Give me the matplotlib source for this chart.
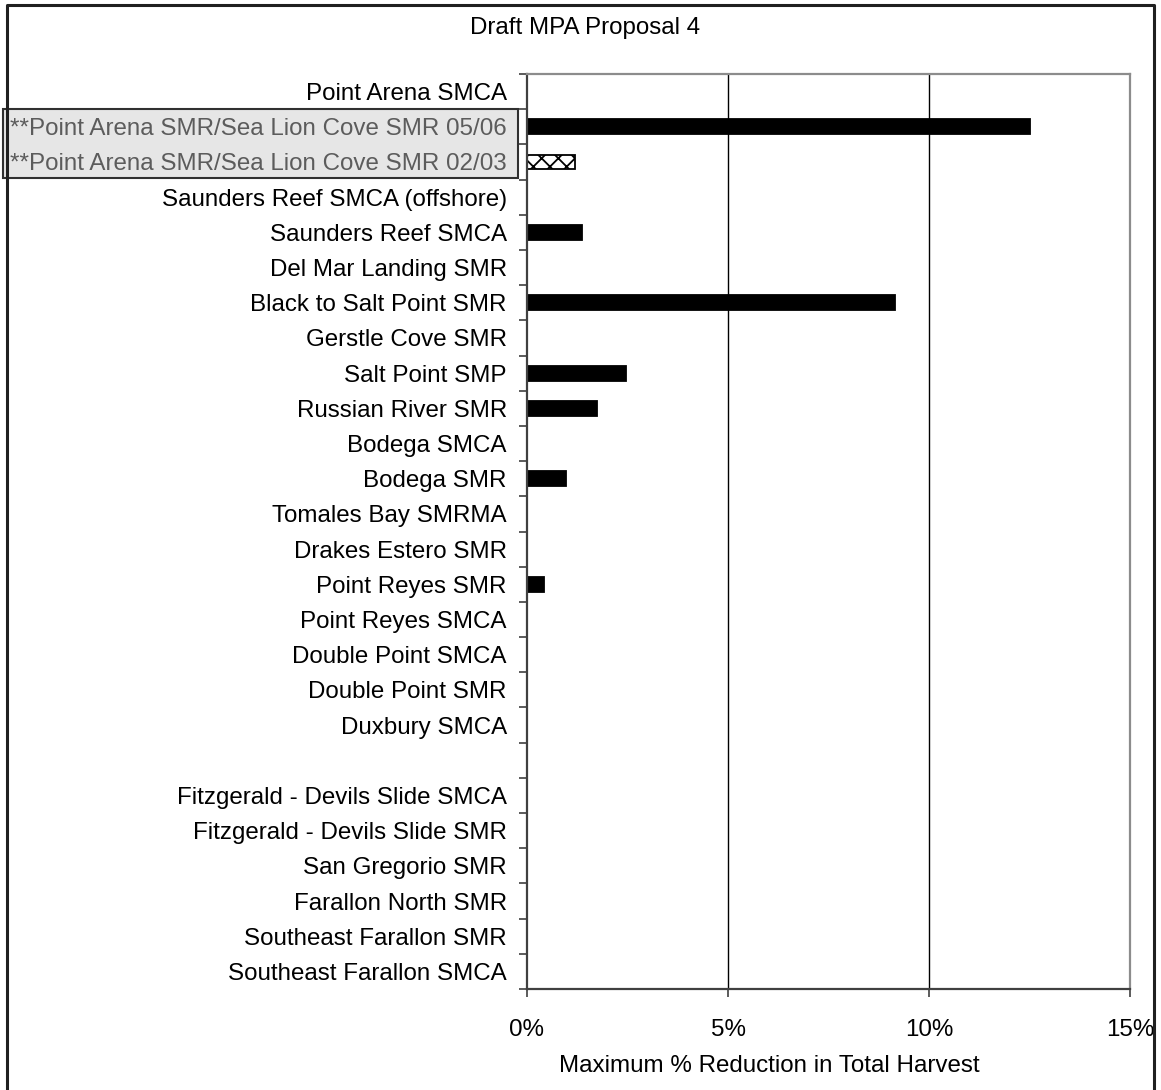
"""Draft MPA Proposal 4 - horizontal bar chart of maximum % harvest reduction."""
import numpy as np
import matplotlib
matplotlib.use("Agg")
import matplotlib.pyplot as plt
from matplotlib.patches import Rectangle
from matplotlib.lines import Line2D
from matplotlib.ticker import FixedLocator, PercentFormatter

plt.rcParams["font.family"] = ["Liberation Sans", "DejaVu Sans"]
plt.rcParams["hatch.linewidth"] = 1.3

# --- data (top to bottom) ---
sites = [
    "Point Arena SMCA",
    "**Point Arena SMR/Sea Lion Cove SMR 05/06",
    "**Point Arena SMR/Sea Lion Cove SMR 02/03",
    "Saunders Reef SMCA (offshore)",
    "Saunders Reef SMCA",
    "Del Mar Landing SMR",
    "Black to Salt Point SMR",
    "Gerstle Cove SMR",
    "Salt Point SMP",
    "Russian River SMR",
    "Bodega SMCA",
    "Bodega SMR",
    "Tomales Bay SMRMA",
    "Drakes Estero SMR",
    "Point Reyes SMR",
    "Point Reyes SMCA",
    "Double Point SMCA",
    "Double Point SMR",
    "Duxbury SMCA",
    "",
    "Fitzgerald - Devils Slide SMCA",
    "Fitzgerald - Devils Slide SMR",
    "San Gregorio SMR",
    "Farallon North SMR",
    "Southeast Farallon SMR",
    "Southeast Farallon SMCA",
]
reduction = [0, 12.52, 1.2, 0, 1.37, 0, 9.15, 0, 2.46, 1.75, 0, 0.96, 0, 0,
             0.42, 0, 0, 0, 0, 0, 0, 0, 0, 0, 0, 0]
hatched_sites = ["**Point Arena SMR/Sea Lion Cove SMR 02/03"]
boxed_sites = ["**Point Arena SMR/Sea Lion Cove SMR 05/06",
               "**Point Arena SMR/Sea Lion Cove SMR 02/03"]
x_ticks = [0, 5, 10, 15]

FS = 17.4
W, H = 1161, 1090
fig = plt.figure(figsize=(W / 100, H / 100), dpi=100)
ax = fig.add_axes([527 / W, 1 - 989 / H, (1130 - 527) / W, (989 - 74) / H])

ypos = np.arange(len(sites))
faces = ["white" if s in hatched_sites else "black" for s in sites]
hatches = ["xx" if s in hatched_sites else None for s in sites]
bars = ax.barh(ypos, reduction, height=0.42, color=faces, edgecolor="black",
               linewidth=1.3)
for b, h in zip(bars, hatches):
    if h:
        b.set_hatch(h)

ax.set_xlim(0, 15)
ax.set_ylim(len(sites) - 0.5, -0.5)

# y axis: labels at centres, ticks at category boundaries
ax.set_yticks(ypos)
ax.set_yticklabels(sites, fontsize=FS)
ax.yaxis.set_minor_locator(FixedLocator(np.arange(-0.5, len(sites), 1.0)))
ax.tick_params(axis="y", which="major", length=0, pad=14.5)
ax.tick_params(axis="y", which="minor", length=6, width=1.2, color="#404040")
for lbl in ax.get_yticklabels():
    if lbl.get_text() in boxed_sites:
        lbl.set_color("#5c5c5c")

# x axis
ax.xaxis.set_major_locator(FixedLocator(x_ticks))
ax.xaxis.set_major_formatter(PercentFormatter(decimals=0))
ax.tick_params(axis="x", which="major", length=6, width=1.2, color="#404040",
               labelsize=FS, pad=15.5)
ax.grid(axis="x", color="black", linewidth=1.0)
ax.set_axisbelow(True)
gl = ax.get_xgridlines()
gl[0].set_visible(False)
gl[-1].set_visible(False)

for side in ["left", "bottom"]:
    ax.spines[side].set_color("#404040")
    ax.spines[side].set_linewidth(1.6)
for side in ["top", "right"]:
    ax.spines[side].set_color("#8c8c8c")
    ax.spines[side].set_linewidth(1.6)

# grey box behind the two proposal labels
fig.patches.append(Rectangle((3 / W, 1 - 178 / H), (518 - 3) / W, (178 - 109) / H,
                             transform=fig.transFigure, facecolor="#e6e6e6",
                             edgecolor="#303030", linewidth=1.5, zorder=-1))

# figure frame (left, top, right)
fig.lines.append(Line2D([7 / W, 7 / W, 1154 / W, 1154 / W],
                        [0, 1 - 5 / H, 1 - 5 / H, 0],
                        transform=fig.transFigure, color="#202020", linewidth=2.2))

fig.text(585 / W, 1 - 34 / H, "Draft MPA Proposal 4", ha="center", va="baseline",
         fontsize=FS)
fig.text(559 / W, 1 - 1072 / H, "Maximum % Reduction in Total Harvest",
         ha="left", va="baseline", fontsize=FS)

fig.savefig("out.png", dpi=100, facecolor="white")
